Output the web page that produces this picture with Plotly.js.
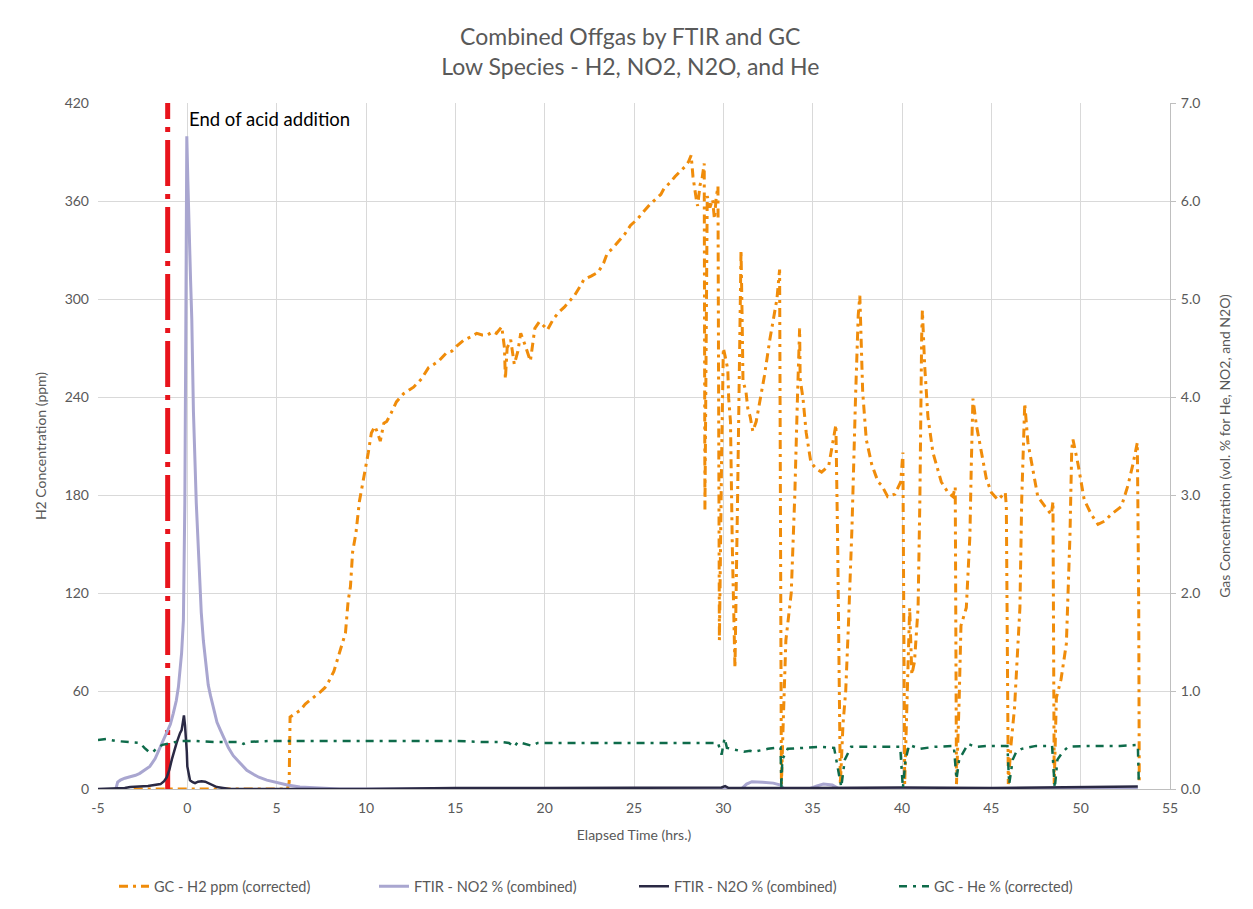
<!DOCTYPE html>
<html>
<head>
<meta charset="utf-8">
<script src="https://cdn.plot.ly/plotly-3.0.1.min.js"></script>
<style>
  html, body { margin: 0; padding: 0; background: #ffffff; }
  #chart { width: 1253px; height: 909px; }
</style>
</head>
<body>
<div id="chart"></div>
<script>
// GC hydrogen (ppm, left axis)
const h2Hours = [
  -3.0, -1.0, 1.0, 3.0, 5.6, 5.7, 5.75, 6.0, 6.3, 6.6, 6.9, 7.2, 7.45, 7.7, 7.9, 8.2, 8.46, 8.73, 8.85,
  9.0, 9.13, 9.25, 9.44, 9.63, 9.81, 10.0, 10.13, 10.3, 10.5, 10.65, 10.8, 11.0, 11.16, 11.4, 11.7,
  12.1, 12.4, 12.66, 13.1, 13.5, 13.8, 14.07, 14.5, 14.8, 15.06, 15.5, 15.9, 16.2, 16.5, 16.8, 17.1,
  17.3, 17.6, 17.75, 17.8, 17.9, 18.1, 18.3, 18.5, 18.66, 18.9, 19.2, 19.45, 19.7, 20.0, 20.15, 20.5,
  20.8, 21.1, 21.4, 21.66, 22.0, 22.2, 22.6, 23.0, 23.3, 23.5, 23.8, 24.1, 24.5, 24.8, 25.2, 25.5,
  25.9, 26.2, 26.5, 26.7, 27.0, 27.3, 27.6, 27.85, 28.05, 28.2, 28.3, 28.37, 28.5, 28.56, 28.7, 28.8,
  28.93, 28.97, 29.05, 29.1, 29.25, 29.4, 29.5, 29.6, 29.7, 29.78, 29.9, 30.0, 30.1, 30.25, 30.3, 30.4,
  30.5, 30.65, 30.8, 30.9, 30.99, 31.05, 31.1, 31.27, 31.37, 31.5, 31.65, 31.84, 32.1, 32.3, 32.6,
  32.86, 33.0, 33.15, 33.2, 33.25, 33.35, 33.5, 33.8, 34.0, 34.15, 34.27, 34.3, 34.46, 34.64, 34.9,
  35.2, 35.5, 35.9, 36.1, 36.3, 36.4, 36.55, 36.7, 36.85, 37.0, 37.2, 37.4, 37.55, 37.64, 37.73, 37.8,
  38.0, 38.3, 38.66, 38.86, 39.2, 39.6, 39.93, 40.05, 40.15, 40.3, 40.43, 40.55, 40.7, 40.9, 41.0,
  41.1, 41.14, 41.27, 41.45, 41.73, 41.9, 42.2, 42.57, 42.85, 42.98, 43.05, 43.2, 43.3, 43.6, 43.8,
  43.88, 43.97, 44.16, 44.44, 44.72, 45.0, 45.37, 45.78, 45.84, 45.95, 46.1, 46.3, 46.6, 46.7, 46.83,
  46.87, 47.05, 47.33, 47.6, 48.0, 48.36, 48.45, 48.52, 48.64, 48.9, 49.2, 49.4, 49.5, 49.57, 49.85,
  50.2, 50.6, 50.97, 51.34, 51.7, 52.28, 52.65, 52.93, 53.17, 53.2, 53.25, 53.28
];
const h2Ppm = [
  0, 0, 0, 0, 0, 4, 44, 46, 48, 52, 54.5, 57, 59.5, 62, 65.5, 72, 81, 91, 95.5,
  115, 124, 145, 157, 176, 187, 197, 206, 218, 222, 218, 213, 224, 225, 230, 237,
  242, 244, 246, 251, 258, 260, 262, 267, 268, 271, 275, 277, 279, 278, 278, 280,
  279, 283, 270, 251, 270, 275, 260, 268, 279, 272, 262, 282, 286, 283, 281, 288,
  292, 295, 299, 302, 308, 312, 314, 316.5, 322, 328, 331, 335, 340, 345, 349, 353,
  358, 361, 364, 368, 371, 375, 378, 381, 384, 388, 375, 369, 360, 357, 370, 373,
  383, 171, 300, 363, 356, 361, 349, 362, 369, 91, 200, 270, 265, 257, 239, 225,
  150, 74, 180, 280, 330, 290, 250, 243, 233, 228, 219, 225, 241, 253, 275,
  292, 300, 318, 180, 3, 40, 91, 120, 180, 240, 282, 251, 239, 218, 200,
  196, 194, 198, 210, 223, 150, 3, 40, 60, 100, 160, 240, 290, 302, 265, 243,
  214, 199, 188, 186, 179, 180.5, 188, 206, 3, 60, 111, 70, 78, 111, 177,
  276, 293, 259, 228, 206, 199, 188, 181.6, 179, 185, 3, 55, 100, 111, 155,
  199, 239, 223, 206, 190, 181.6, 177, 181.6, 173, 3, 27, 50, 111, 177, 234,
  236, 212, 195, 179, 173, 168, 176, 3, 56, 67, 89, 155, 208, 214, 199,
  177, 168, 162, 164, 168, 173, 186, 199, 212, 177, 111, 5
];

// FTIR nitrogen dioxide (vol. %, right axis)
const no2Hours = [
  -4.0, -3.9, -3.75, -3.5, -3.2, -2.9, -2.66, -2.4, -2.1, -1.8, -1.54, -1.35, -1.16, -0.95, -0.79,
  -0.62, -0.5, -0.4, -0.32, -0.22, -0.18, -0.14, -0.1, -0.07, -0.03, 0.03, 0.12, 0.18, 0.25, 0.34,
  0.5, 0.68, 0.78, 0.9, 1.09, 1.17, 1.3, 1.46, 1.66, 1.85, 2.02, 2.3, 2.57, 2.77, 3.05, 3.33, 3.7,
  4.0, 4.45, 4.9, 5.2, 5.6, 6.3, 7.1, 8.5, 15, 20, 25, 31.0, 31.3, 31.6, 32.2, 32.8, 33.2, 33.4,
  34.8, 35.2, 35.6, 36.1, 36.5, 45, 53.2
];
const no2Pct = [
  0.0, 0.07, 0.09, 0.11, 0.125, 0.14, 0.16, 0.19, 0.23, 0.31, 0.42, 0.5, 0.57, 0.66, 0.77,
  0.9, 1.04, 1.2, 1.39, 1.72, 2.3, 2.92, 4.2, 5.73, 6.66, 6.2, 5.73, 5.2, 4.79, 3.86,
  2.92, 2.21, 1.8, 1.51, 1.21, 1.06, 0.95, 0.84, 0.68, 0.6, 0.53, 0.42, 0.34, 0.3, 0.24, 0.19, 0.15,
  0.12, 0.09, 0.07, 0.06, 0.04, 0.02, 0.01, 0.0, 0.0, 0.0, 0.0, 0.0, 0.05, 0.075, 0.07, 0.06, 0.04, 0.0,
  0.0, 0.03, 0.05, 0.04, 0.0, 0.0, 0.0
];

// FTIR nitrous oxide (vol. %, right axis)
const n2oHours = [
  -5, -3.5, -3.2, -2.2, -1.5, -1.3, -1.15, -1.0, -0.87, -0.72, -0.6, -0.41, -0.32, -0.25, -0.19,
  -0.13, -0.07, -0.03, 0.0, 0.08, 0.15, 0.3, 0.43, 0.6, 0.8, 1.0, 1.18, 1.4, 1.65, 2.0, 2.4,
  10, 15, 20, 25, 29, 29.9, 30.1, 30.3, 35, 40, 45, 50, 53.2
];
const n2oPct = [
  0.0, 0.01, 0.02, 0.03, 0.05, 0.08, 0.12, 0.2, 0.3, 0.4, 0.47, 0.57, 0.6, 0.68, 0.75,
  0.65, 0.53, 0.38, 0.23, 0.13, 0.09, 0.07, 0.06, 0.075, 0.08, 0.075, 0.06, 0.04, 0.02, 0.01, 0.0,
  0.0, 0.01, 0.01, 0.01, 0.01, 0.015, 0.03, 0.01, 0.01, 0.015, 0.01, 0.015, 0.025
];

// GC helium (vol. %, right axis)
const heHours = [
  -5, -4.55, -4.0, -3.2, -2.66, -2.4, -2.1, -1.9, -1.7, -1.4, -1.15, -0.8, -0.4, 0.5, 1.5, 2.5,
  2.95, 3.14, 3.4, 4.5, 5.7, 7, 9, 11, 13, 15, 16.5, 17.5, 18.0, 18.29, 18.5, 18.9, 19.3, 19.6,
  20.0, 21, 23, 25, 27, 29, 29.7, 29.9, 30.07, 30.2, 30.4, 31.15, 31.5, 31.7, 32.5, 33.2, 33.25,
  33.3, 33.6, 34.35, 35.5, 36.2, 36.5, 36.6, 36.8, 37.15, 38, 39, 39.9, 40.05, 40.2, 40.4, 41.0,
  41.8, 42.9, 43.05, 43.2, 43.7, 44.1, 44.8, 45.9, 46.0, 46.2, 46.4, 46.7, 47.5, 48.4, 48.55,
  48.7, 49.0, 49.3, 50.3, 51.5, 52.2, 53.2, 53.25
];
const hePct = [
  0.5, 0.51, 0.49, 0.48, 0.47, 0.42, 0.37, 0.38, 0.42, 0.45, 0.46, 0.47, 0.49, 0.49, 0.48, 0.48,
  0.48, 0.46, 0.48, 0.49, 0.49, 0.49, 0.49, 0.49, 0.49, 0.49, 0.48, 0.48, 0.47, 0.43, 0.48, 0.46, 0.44, 0.47,
  0.47, 0.47, 0.47, 0.47, 0.47, 0.47, 0.47, 0.35, 0.52, 0.42, 0.41, 0.38, 0.39, 0.38, 0.41, 0.425, 0.02,
  0.3, 0.41, 0.42, 0.43, 0.42, 0.12, 0.02, 0.3, 0.43, 0.43, 0.43, 0.43, 0.01, 0.3, 0.45, 0.41,
  0.43, 0.44, 0.1, 0.3, 0.46, 0.43, 0.44, 0.44, 0.05, 0.3, 0.38, 0.41, 0.44, 0.44, 0.01,
  0.3, 0.38, 0.43, 0.44, 0.44, 0.44, 0.45, 0.09
];

// End of acid addition marker (hours) spanning the full H2 scale
const acidEndHours = [-1.1, -1.1];
const acidEndSpan = [0, 420];

const xTicks = [-5, 0, 5, 10, 15, 20, 25, 30, 35, 40, 45, 50, 55];
const leftTicks = [0, 60, 120, 180, 240, 300, 360, 420];
const rightTicks = [0, 1, 2, 3, 4, 5, 6, 7];

const FONT = 'Lato, "Open Sans", "Liberation Sans", sans-serif';
const GREY = '#595959';

const traces = [
  {
    name: 'GC - H2 ppm (corrected)',
    x: h2Hours, y: h2Ppm, yaxis: 'y', mode: 'lines',
    line: { color: '#F08C0A', width: 3, dash: '9px,5px,3px,5px' }
  },
  {
    name: 'FTIR - NO2 % (combined)',
    x: no2Hours, y: no2Pct, yaxis: 'y2', mode: 'lines',
    line: { color: '#A9A6D0', width: 3 }
  },
  {
    name: 'FTIR - N2O % (combined)',
    x: n2oHours, y: n2oPct, yaxis: 'y2', mode: 'lines',
    line: { color: '#2A2944', width: 2.5 }
  },
  {
    name: 'GC - He % (corrected)',
    x: heHours, y: hePct, yaxis: 'y2', mode: 'lines',
    line: { color: '#0E6B4A', width: 2.5, dash: '8px,6px,3px,6px' }
  },
  {
    name: 'End of acid addition',
    x: acidEndHours, y: acidEndSpan, yaxis: 'y', mode: 'lines',
    showlegend: false,
    line: { color: '#E8141C', width: 5, dash: '46px,8px,5px,8px' }
  }
];

const layout = {
  width: 1253,
  height: 909,
  paper_bgcolor: '#ffffff',
  plot_bgcolor: '#ffffff',
  font: { family: FONT, color: GREY, size: 14 },
  margin: { l: 98, r: 83, t: 103, b: 120, autoexpand: false },
  title: {
    text: 'Combined Offgas by FTIR and GC<br>Low Species - H2, NO2, N2O, and He',
    font: { family: FONT, size: 23, color: GREY },
    x: 0.503, xanchor: 'center',
    y: 0.95, yanchor: 'middle', yref: 'container'
  },
  xaxis: {
    range: [-5, 55],
    tickvals: xTicks,
    ticktext: xTicks.map(String),
    showgrid: true, gridcolor: '#D9D9D9', gridwidth: 1,
    zeroline: false,
    showline: true, linecolor: '#BFBFBF', linewidth: 1,
    ticks: '',
    ticklabelstandoff: 6,
    tickfont: { family: FONT, size: 14, color: GREY },
    title: { text: 'Elapsed Time (hrs.)', font: { family: FONT, size: 14, color: GREY }, standoff: 15 }
  },
  yaxis: {
    range: [0, 420],
    tickvals: leftTicks,
    ticktext: leftTicks.map(String),
    showgrid: true, gridcolor: '#D9D9D9', gridwidth: 1,
    zeroline: false, showline: false, ticks: '',
    ticklabelstandoff: 8,
    tickfont: { family: FONT, size: 14, color: GREY },
    title: { text: 'H2 Concentration (ppm)', font: { family: FONT, size: 14, color: GREY }, standoff: 14 }
  },
  yaxis2: {
    range: [0, 7],
    overlaying: 'y', side: 'right',
    tickvals: rightTicks,
    ticktext: rightTicks.map(v => v.toFixed(1)),
    showgrid: false, zeroline: false,
    showline: true, linecolor: '#BFBFBF', linewidth: 1,
    ticks: 'outside', ticklen: 5, tickcolor: '#BFBFBF',
    ticklabelstandoff: 2,
    tickfont: { family: FONT, size: 14, color: GREY },
    title: { text: 'Gas Concentration (vol. % for He, NO2, and N2O)', font: { family: FONT, size: 14, color: GREY }, standoff: 20 }
  },
  legend: {
    orientation: 'h',
    x: 0.5, xanchor: 'center',
    y: -0.142, yanchor: 'middle',
    font: { family: FONT, size: 14.5, color: GREY },
    entrywidth: 215, entrywidthmode: 'pixels',
    traceorder: 'normal'
  },
  annotations: [
    {
      text: 'End of acid addition',
      x: 0, y: 410, xref: 'x', yref: 'y',
      xanchor: 'left', yanchor: 'middle',
      showarrow: false,
      font: { family: FONT, size: 18.5, color: '#000000' }
    }
  ],
  showlegend: true,
  hovermode: false
};

Plotly.newPlot('chart', traces, layout, { displayModeBar: false, staticPlot: true });
</script>
</body>
</html>
